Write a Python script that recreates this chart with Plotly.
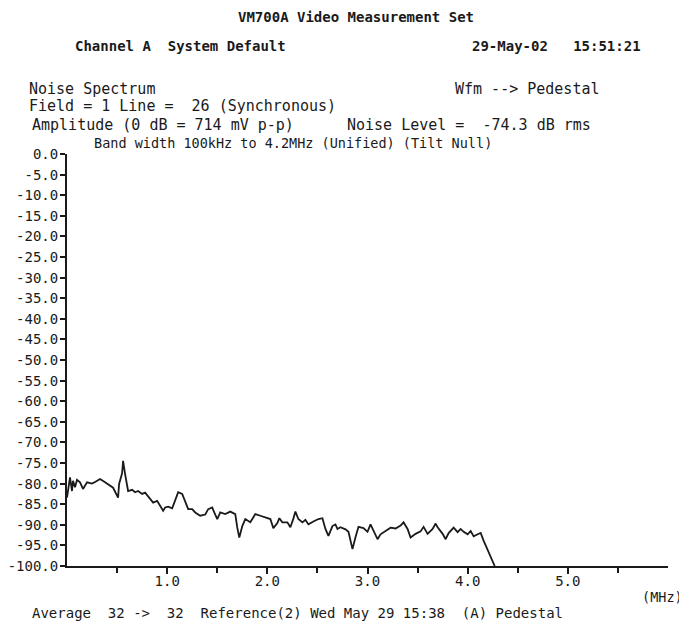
import plotly.graph_objects as go

# ---- data ----
freq_mhz = [0.00, 0.03, 0.05, 0.06, 0.08, 0.10, 0.13, 0.16, 0.20, 0.25, 0.28, 0.33, 0.38, 0.43, 0.46,
            0.51, 0.52, 0.55, 0.56, 0.58, 0.61, 0.65, 0.68, 0.71, 0.75, 0.78, 0.81, 0.86, 0.90, 0.93,
            0.96, 0.98, 1.01, 1.05, 1.08, 1.11, 1.15, 1.18, 1.21, 1.25, 1.28, 1.33, 1.38, 1.41, 1.45,
            1.47, 1.50, 1.53, 1.58, 1.63, 1.68, 1.70, 1.72, 1.75, 1.78, 1.83, 1.88, 1.93, 1.98, 2.03,
            2.06, 2.10, 2.12, 2.15, 2.20, 2.23, 2.26, 2.28, 2.31, 2.35, 2.38, 2.41, 2.46, 2.51, 2.55,
            2.58, 2.61, 2.65, 2.68, 2.70, 2.73, 2.78, 2.81, 2.85, 2.88, 2.91, 2.96, 3.00, 3.03, 3.06,
            3.10, 3.13, 3.18, 3.23, 3.28, 3.33, 3.36, 3.40, 3.43, 3.48, 3.53, 3.56, 3.60, 3.65, 3.68,
            3.70, 3.75, 3.78, 3.81, 3.86, 3.90, 3.93, 3.96, 4.00, 4.03, 4.06, 4.10, 4.13, 4.16, 4.19,
            4.22, 4.26, 4.27]
noise_db = [-83.4, -78.5, -81.8, -79.3, -80.9, -79.1, -79.7, -81.3, -79.7, -80.0, -79.6, -78.9, -79.7, -80.4, -81.0,
            -83.4, -80.1, -77.5, -74.5, -77.7, -81.8, -81.5, -82.1, -81.8, -82.5, -82.2, -83.0, -84.6, -84.2, -85.4,
            -86.6, -85.8, -85.6, -86.0, -83.8, -82.1, -82.5, -84.6, -86.2, -86.2, -87.0, -87.8, -87.5, -86.2, -85.8,
            -87.0, -88.6, -87.0, -87.4, -86.8, -87.4, -90.7, -93.1, -90.3, -88.6, -89.4, -87.4, -87.8, -88.2, -88.6,
            -90.8, -89.6, -88.4, -89.4, -89.4, -90.6, -88.5, -86.8, -88.6, -89.4, -88.8, -89.9, -89.2, -88.6, -88.4,
            -91.0, -92.7, -90.3, -89.9, -91.0, -90.6, -91.1, -91.7, -95.9, -93.0, -90.5, -90.8, -91.7, -89.9, -91.5,
            -93.5, -92.3, -91.4, -90.7, -90.9, -90.2, -89.4, -91.0, -93.1, -92.2, -91.6, -90.5, -92.2, -91.0, -89.7,
            -90.6, -92.2, -93.5, -92.0, -90.7, -91.8, -91.0, -91.7, -92.3, -91.5, -92.8, -92.3, -92.0, -93.9, -95.5,
            -97.1, -99.4, -100.0]

y_tick_vals = [0, -5, -10, -15, -20, -25, -30, -35, -40, -45, -50, -55, -60, -65, -70, -75, -80, -85, -90, -95, -100]
y_tick_text = ["0.0", "-5.0", "-10.0", "-15.0", "-20.0", "-25.0", "-30.0", "-35.0", "-40.0", "-45.0", "-50.0",
               "-55.0", "-60.0", "-65.0", "-70.0", "-75.0", "-80.0", "-85.0", "-90.0", "-95.0", "-100.0"]
x_tick_vals = [1, 2, 3, 4, 5]
x_tick_text = ["1.0", "2.0", "3.0", "4.0", "5.0"]
x_minor_vals = [0.5, 1.5, 2.5, 3.5, 4.5, 5.5]

# ---- layout geometry (pixels, page coordinates; the page body adds an 8px offset) ----
OFF = 8
W, H = 687 - OFF, 624 - OFF
L, R, T, B = 67 - OFF, 668 - OFF, 154 - OFF, 566 - OFF
INK = "#1a1a1a"
FONT = "DejaVu Sans Mono"

fig = go.Figure()
fig.add_trace(go.Scatter(x=freq_mhz, y=noise_db, mode="lines",
                         line=dict(color=INK, width=1.8), hoverinfo="x+y"))


def px(xp):
    return (xp - OFF - L) / (R - L)


def py(yp):
    return (B - (yp - OFF)) / (B - T)


texts = [
    ("VM700A Video Measurement Set", 236, 17, 14, True),
    ("Channel A  System Default", 73, 46, 14, True),
    ("29-May-02   15:51:21", 470, 46, 14, True),
    ("Noise Spectrum", 27, 89, 15, False),
    ("Wfm --> Pedestal", 453, 89, 15, False),
    ("Field = 1 Line =  26 (Synchronous)", 27, 106, 15, False),
    ("Amplitude (0 dB = 714 mV p-p)", 30, 125, 15, False),
    ("Noise Level =  -74.3 dB rms", 345, 125, 15, False),
    ("Band width 100kHz to 4.2MHz (Unified) (Tilt Null)", 92, 143, 13.5, False),
    ("(MHz)", 640, 597, 13.5, False),
    ("Average  32 ->  32  Reference(2) Wed May 29 15:38  (A) Pedestal", 30, 613, 14, False),
]
for txt, x0, y0, size, bold in texts:
    fig.add_annotation(text=(f"<b>{txt}</b>" if bold else txt), xref="paper", yref="paper",
                       x=px(x0), y=py(y0), xanchor="left", yanchor="middle", showarrow=False,
                       font=dict(family=FONT, size=size, color=INK))

fig.update_layout(
    width=W, height=H,
    margin=dict(l=L, r=W - R, t=T, b=H - B, pad=0, autoexpand=False),
    paper_bgcolor="white", plot_bgcolor="white",
    showlegend=False,
    font=dict(family=FONT, color=INK),
    xaxis=dict(range=[0, 6], showgrid=False, zeroline=False, showline=True, linecolor=INK, linewidth=2,
               automargin=False,
               ticks="outside", ticklen=6, tickwidth=2, tickcolor=INK,
               tickvals=x_tick_vals, ticktext=x_tick_text, ticklabelstandoff=-5,
               tickfont=dict(family=FONT, size=14, color=INK),
               minor=dict(tickvals=x_minor_vals, ticks="outside", ticklen=5, tickwidth=1.5, tickcolor=INK)),
    yaxis=dict(range=[-100, 0], showgrid=False, zeroline=False, showline=True, linecolor=INK, linewidth=2,
               automargin=False,
               ticks="outside", ticklen=5, tickwidth=1.5, tickcolor=INK,
               tickvals=y_tick_vals, ticktext=y_tick_text, ticklabelstandoff=-1,
               tickfont=dict(family=FONT, size=14, color=INK)),
)

fig.write_html("out.html")
